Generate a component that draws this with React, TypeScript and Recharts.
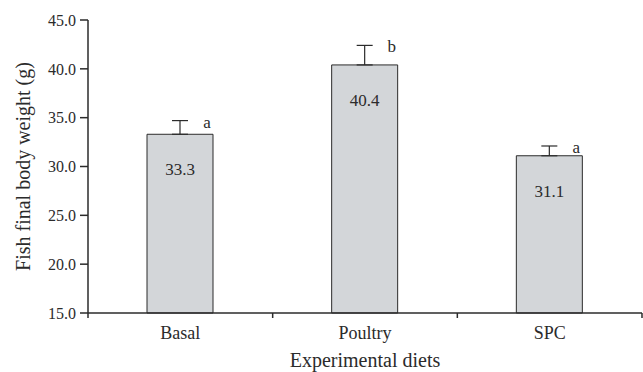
import { BarChart, Bar, XAxis, YAxis, ErrorBar, LabelList } from 'recharts'

const categories = ['Basal', 'Poultry', 'SPC']
const means = [33.3, 40.4, 31.1]
const errors = [1.4, 2.0, 1.0]
const letters = ['a', 'b', 'a']
const yTicks = [15, 20, 25, 30, 35, 40, 45]

const FONT = 'Liberation Serif'
const INK = '#2b2b2b'
const BAR = '#d3d6d9'
const W = 643
const H = 372
const M = { top: 20, right: 1, left: 0, bottom: 0 }
const Y_W = 88
const X_H = 59
const X_TICK = 5
const X_GAP = 8

const data = categories.map((c, i) => ({ diet: c, weight: means[i], err: [0, errors[i]] }))
const band = (W - M.left - M.right - Y_W) / categories.length

function DietTick(props: any) {
  const { x, y, payload, index } = props
  const axisY = y - X_TICK - X_GAP
  return (
    <g>
      {index === 0 && <line x1={x - band / 2} y1={axisY} x2={x - band / 2} y2={axisY + X_TICK} stroke={INK} strokeWidth={1.5} />}
      <line x1={x + band / 2} y1={axisY} x2={x + band / 2} y2={axisY + X_TICK} stroke={INK} strokeWidth={1.5} />
      <text x={x} y={y} dy="0.71em" textAnchor="middle" style={{ fontFamily: FONT, fontSize: 18 }} fill={INK}>{payload.value}</text>
    </g>
  )
}

function ValueLabel(props: any) {
  const { x, y, width, value } = props
  return (
    <text x={x + width / 2} y={y + 35} dy="0.35em" textAnchor="middle" style={{ fontFamily: FONT, fontSize: 17 }} fill={INK}>
      {Number(value).toFixed(1)}
    </text>
  )
}

function LetterLabel(props: any) {
  const { x, y, width, height, value, index } = props
  const perUnit = height / (value - yTicks[0])
  const top = y - errors[index] * perUnit
  return (
    <text x={x + width - 6} y={top + 7} textAnchor="middle" style={{ fontFamily: FONT, fontSize: 17 }} fill={INK}>
      {letters[index]}
    </text>
  )
}

export default function App() {
  return (
    <div style={{ position: 'fixed', left: 0, top: 0, width: W, height: H, background: '#fff', fontFamily: FONT }}>
      <BarChart width={W} height={H} data={data} margin={M} style={{ fontFamily: FONT }}>
        <XAxis
          dataKey="diet"
          height={X_H}
          tickLine={false}
          tickSize={X_TICK}
          tickMargin={X_GAP}
          axisLine={{ stroke: INK, strokeWidth: 1.5 }}
          tick={<DietTick />}
          label={{
            content: (p: any) => (
              <text x={p.viewBox.x + p.viewBox.width / 2} y={360} dy="0.35em" textAnchor="middle" style={{ fontFamily: FONT, fontSize: 20 }} fill={INK}>
                Experimental diets
              </text>
            ),
          }}
        />
        <YAxis
          width={Y_W}
          domain={[15, 45]}
          ticks={yTicks}
          interval={0}
          tickFormatter={(v: number) => v.toFixed(1)}
          tickSize={8}
          tickMargin={4}
          axisLine={{ stroke: INK, strokeWidth: 1.5 }}
          tickLine={{ stroke: INK, strokeWidth: 1.5 }}
          tick={{ fontFamily: FONT, fontSize: 16, fill: INK, style: { fontFamily: FONT } }}
          label={{
            content: (p: any) => (
              <text
                x={23}
                y={p.viewBox.y + p.viewBox.height / 2}
                dy="0.35em"
                textAnchor="middle"
                transform={`rotate(-90 23 ${p.viewBox.y + p.viewBox.height / 2})`}
                style={{ fontFamily: FONT, fontSize: 20 }}
                fill={INK}
              >
                Fish final body weight (g)
              </text>
            ),
          }}
        />
        <Bar dataKey="weight" fill={BAR} stroke={INK} strokeWidth={1} barSize={66} isAnimationActive={false}>
          <ErrorBar dataKey="err" width={8} stroke={INK} strokeWidth={1.2} direction="y" />
          <LabelList dataKey="weight" content={<ValueLabel />} />
          <LabelList dataKey="weight" content={<LetterLabel />} />
        </Bar>
      </BarChart>
    </div>
  )
}
